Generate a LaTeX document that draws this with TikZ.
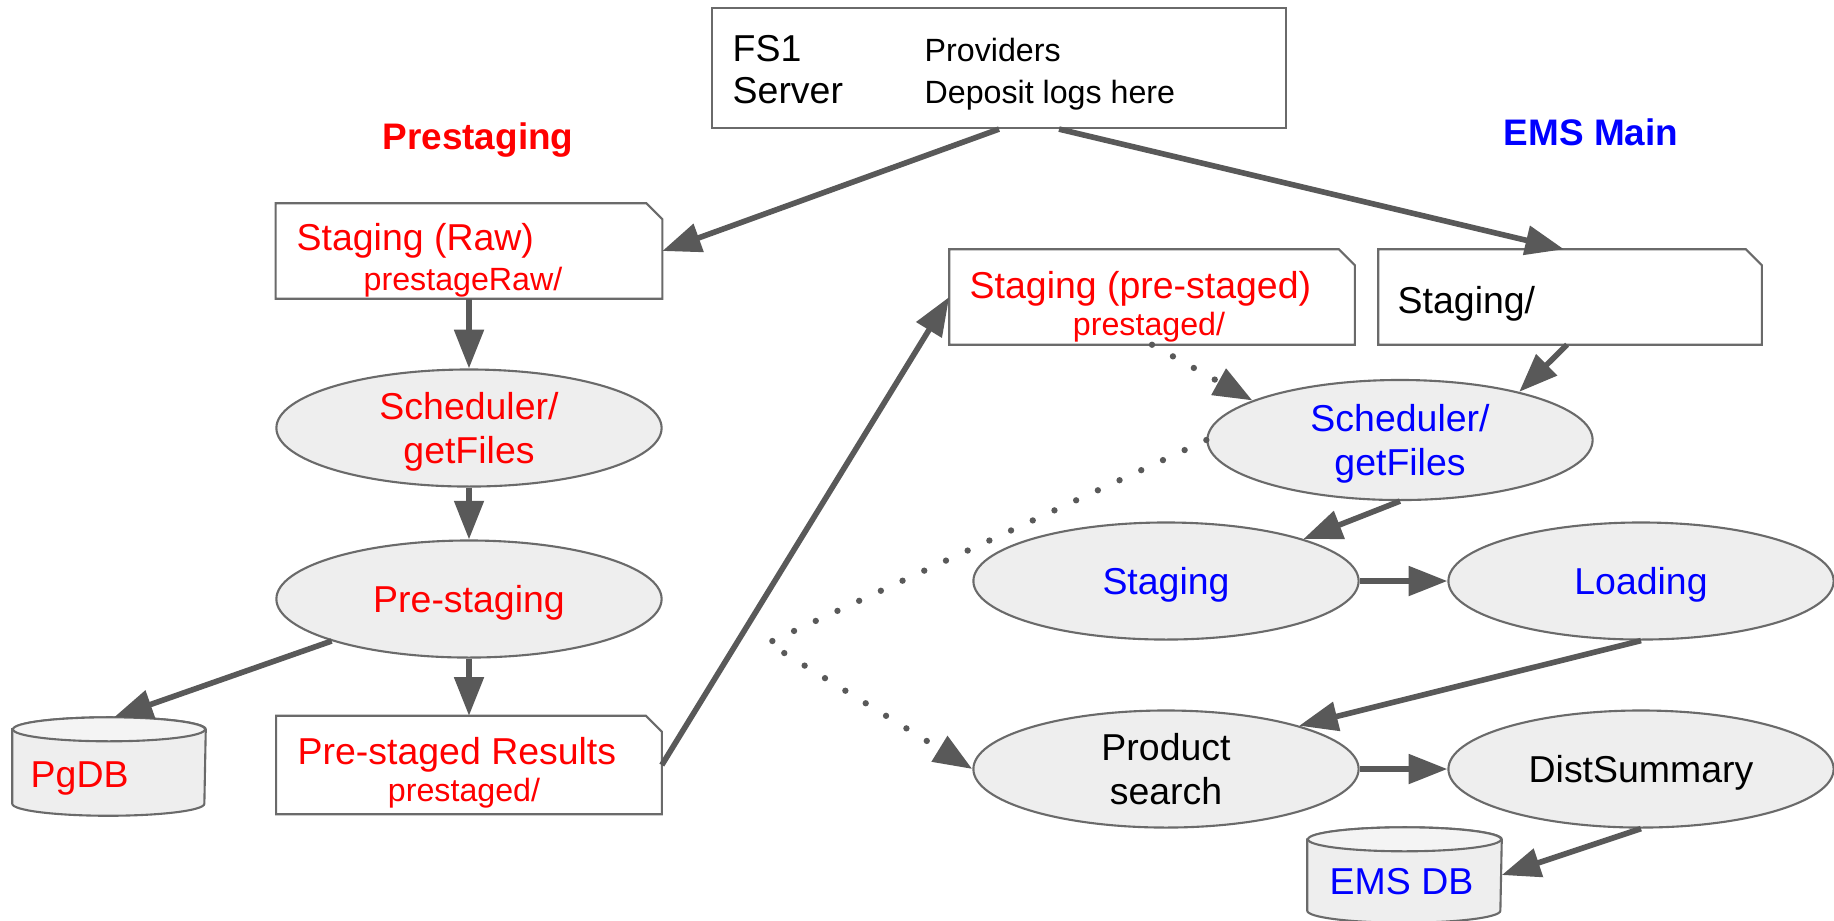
\documentclass[tikz,border=0pt]{standalone}
\usepackage{fontspec}
\setmainfont{Liberation Sans}
\usetikzlibrary{
    shapes.geometric,
    arrows.meta,
    positioning
}

\definecolor{lineGray}{HTML}{595959}
\definecolor{edgeGray}{HTML}{6A6A6A}
\definecolor{procFill}{HTML}{EEEEEE}
\definecolor{topFill}{HTML}{F4F4F4}
\definecolor{preRed}{HTML}{FF0000}
\definecolor{emsBlue}{HTML}{0000FF}

\tikzset{
    bigfont/.style={font=\fontsize{10.65}{12.3}\selectfont},
    smallfont/.style={font=\fontsize{9.15}{10.5}\selectfont},
    headfont/.style={font=\fontsize{10.5}{12.3}\selectfont\bfseries},
    txt/.style={inner sep=0pt, anchor=base west},
    docbox/.style={fill=white, inner sep=0pt},
    docline/.style={draw=edgeGray, line width=0.6pt},
    proc/.style={ellipse, draw=edgeGray, line width=0.6pt, fill=procFill,
        inner sep=0pt, align=center, bigfont, text depth=0pt,
        minimum width=3.85cm, minimum height=1.17cm},
    dbase/.style={inner sep=0pt},
    flow/.style={draw=lineGray, line width=1.6pt,
        -{Triangle[length=11pt, width=8.2pt]}},
    hint/.style={flow, line width=1.8pt, line cap=round, dash pattern=on 0pt off 6.8pt}
}

\begin{document}
\begin{tikzpicture}[x=0.01cm, y=-0.01cm]

\useasboundingbox (0,0) rectangle (1834,920);

% FS1 server
\node[draw=edgeGray, line width=0.6pt, inner sep=0pt,
    minimum width=5.73cm, minimum height=1.2cm] (fs) at (999,68) {};
\node[bigfont, txt] (fsName) at (732,61) {FS1};
\node[bigfont, txt] (fsKind) at (732,103) {Server};
\node[smallfont, txt] (fsWho) at (924,61) {Providers};
\node[smallfont, txt] (fsWhat) at (924,103) {Deposit logs here};

% Headings
\node[headfont, text=preRed] (preHead) at (478,140) {Prestaging};
\node[headfont, text=emsBlue] (emsHead) at (1591,132) {EMS Main};

% Prestaging column
\node[docbox, minimum width=3.85cm, minimum height=0.94cm] (rawdoc) at (469,251) {};
\node[bigfont, txt, text=preRed] (rawTitle) at (296,250) {Staging (Raw)};
\node[smallfont, txt, anchor=base, text=preRed] (rawDir) at (463,290) {prestageRaw/};

\node[proc, text=preRed] (schedL) at (469,428) {Scheduler/\\getFiles};
\node[proc, text=preRed] (prestage) at (469,599) {Pre-staging};

\node[docbox, minimum width=3.84cm, minimum height=0.97cm] (results) at (469,765) {};
\node[bigfont, txt, text=preRed] (resTitle) at (297,764) {Pre-staged Results};
\node[smallfont, txt, anchor=base, text=preRed] (resDir) at (464,801) {prestaged/};

\node[dbase, minimum width=1.92cm, minimum height=0.97cm] (pgdb) at (109,766.5) {};

% EMS Main column
\node[docbox, minimum width=4.04cm, minimum height=0.94cm] (predoc) at (1152,297) {};
\node[bigfont, txt, text=preRed] (preTitle) at (969,298) {Staging (pre-staged)};
\node[smallfont, txt, anchor=base, text=preRed] (preDir) at (1149,335) {prestaged/};

\node[docbox, minimum width=3.82cm, minimum height=0.94cm] (stagdoc) at (1570,297) {};
\node[bigfont, txt] (stagTitle) at (1397,313) {Staging/};

% folded corner outlines
\foreach \n in {rawdoc, results, predoc, stagdoc} {
    \draw[docline] (\n.south west) -- (\n.north west)
        -- ([xshift=-0.16cm]\n.north east) -- ([yshift=-0.16cm]\n.north east)
        -- (\n.south east) -- cycle;
}

\node[proc, text=emsBlue, minimum height=1.2cm] (schedR) at (1400,440) {Scheduler/\\getFiles};
\node[proc, text=emsBlue] (staging) at (1166,581) {Staging};
\node[proc, text=emsBlue] (loading) at (1641,581) {Loading};
\node[proc] (search) at (1166,769) {Product\\search};
\node[proc] (dist) at (1641,769) {DistSummary};

\node[dbase, minimum width=1.93cm, minimum height=0.94cm] (emsdb) at (1404.5,875) {};

% database drums
\foreach \n/\r in {pgdb/0.96cm, emsdb/0.965cm} {
    \filldraw[docline, fill=procFill] ([yshift=-0.12cm]\n.north west)
        -- ([yshift=0.12cm]\n.south west)
        arc[start angle=180, end angle=360, x radius=\r, y radius=0.12cm]
        -- ([yshift=-0.12cm]\n.north east)
        arc[start angle=0, end angle=180, x radius=\r, y radius=0.12cm] -- cycle;
    \filldraw[docline, fill=topFill] ([yshift=-0.12cm]\n.north)
        ellipse[x radius=\r, y radius=0.12cm];
}
\node[bigfont, txt, text=preRed] (pgdbName) at (30,787) {PgDB};
\node[bigfont, txt, text=emsBlue] (emsdbName) at (1329,894) {EMS DB};

% Solid flows
\draw[flow] (fs.south) -- (rawdoc.east);
\draw[flow] ([xshift=0.6cm]fs.south) -- ([xshift=-0.06cm]stagdoc.north);
\foreach \a/\b in {rawdoc/schedL, schedL/prestage, prestage/results,
                   staging/loading, search/dist} {
    \draw[flow] (\a) -- (\b);
}
\draw[flow] (prestage.197) -- ([xshift=0.05cm]pgdb.north);
\draw[flow] (results.east) -- (predoc.west);
\draw[flow] ([xshift=-0.03cm]stagdoc.south) -- (schedR.22);
\draw[flow] (schedR.south) -- (staging.17);
\draw[flow] (loading.south) -- (search.18);
\draw[flow] (dist.south) -- (emsdb.east);

% Dotted flows
\coordinate (bend) at (768,643);
\draw[hint] (predoc.south) -- (schedR.165);
\draw[hint] (schedR.west) -- (bend) -- (search.west);

\end{tikzpicture}
\end{document}
